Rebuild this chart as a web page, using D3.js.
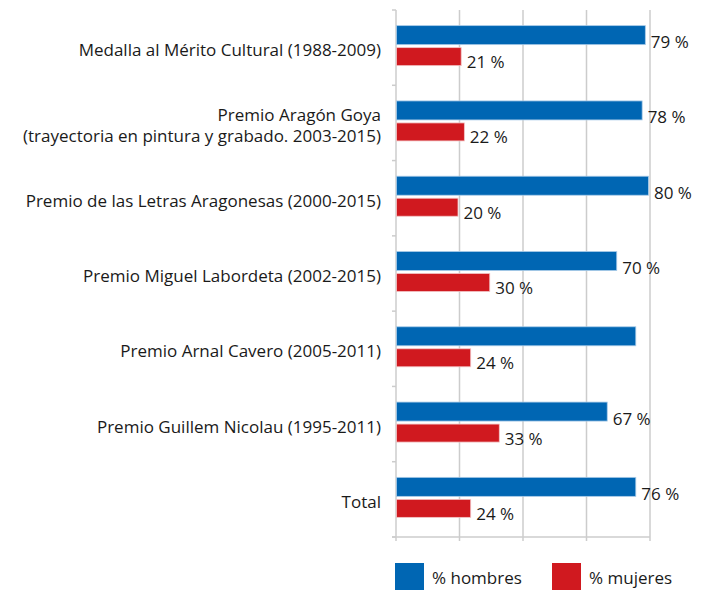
<!DOCTYPE html>
<html>
<head>
<meta charset="utf-8">
<script src="https://d3js.org/d3.v7.min.js"></script>
<style>
  body { margin: 0; background: #fff; }
  text { font-family: "Open Sans", sans-serif; fill: #1a1a1a; }
</style>
</head>
<body>
<svg width="705" height="590"></svg>
<script>
// data
var categories = [
  ["Medalla al Mérito Cultural (1988-2009)"],
  ["Premio Aragón Goya", "(trayectoria en pintura y grabado. 2003-2015)"],
  ["Premio de las Letras Aragonesas (2000-2015)"],
  ["Premio Miguel Labordeta (2002-2015)"],
  ["Premio Arnal Cavero (2005-2011)"],
  ["Premio Guillem Nicolau (1995-2011)"],
  ["Total"]
];
var hombres = [79, 78, 80, 70, 76, 67, 76];
var mujeres = [21, 22, 20, 30, 24, 33, 24];
var hombresLabels = ["79 %", "78 %", "80 %", "70 %", "", "67 %", "76 %"];
var mujeresLabels = ["21  %", "22 %", "20 %", "30 %", "24 %", "33 %", "24 %"];
var xTicks = [0, 20, 40, 60, 80];
var seriesNames = ["% hombres", "% mujeres"];
var colors = ["#0066b3", "#d0191f"];

var svg = d3.select("svg");
var pLeft = 396, pRight = 650, pTop = 10, pBottom = 537;

var x = d3.scaleLinear().domain([0, 80]).range([pLeft, pRight]);
var y = d3.scaleBand().domain(d3.range(categories.length)).range([pTop, pBottom]);

// gridlines
svg.selectAll(".grid").data(xTicks.slice(1)).enter().append("line")
   .attr("x1", d => x(d)).attr("x2", d => x(d))
   .attr("y1", pTop).attr("y2", pBottom + 4)
   .attr("stroke", "#cccccc").attr("stroke-width", 1.5);

// axes
svg.append("line").attr("x1", pLeft).attr("x2", pLeft).attr("y1", pTop).attr("y2", pBottom + 4)
   .attr("stroke", "#cccccc").attr("stroke-width", 1.5);
svg.append("line").attr("x1", pLeft - 4).attr("x2", pRight).attr("y1", pBottom).attr("y2", pBottom)
   .attr("stroke", "#cccccc").attr("stroke-width", 1.5);
svg.selectAll(".ytick").data(d3.range(categories.length + 1)).enter().append("line")
   .attr("x1", pLeft - 4).attr("x2", pLeft)
   .attr("y1", d => pTop + d * y.step()).attr("y2", d => pTop + d * y.step())
   .attr("stroke", "#cccccc").attr("stroke-width", 1.5);

// category labels, one text per line
categories.forEach(function(lines, i) {
  var c = y(i) + y.bandwidth() / 2;
  lines.forEach(function(s, j) {
    svg.append("text").attr("x", 381)
       .attr("text-anchor", "end")
       .attr("y", c + 8.5 + (j - (lines.length - 1) / 2) * 21)
       .style("font-size", "17px")
       .text(s);
  });
});

// bars
var barH = 19, gap = 3;
var groups = svg.selectAll(".g").data(d3.range(categories.length)).enter().append("g");
groups.append("rect")
   .attr("x", pLeft + 0.5).attr("y", i => y(i) + y.bandwidth() / 2 - 22)
   .attr("width", i => x(hombres[i]) - pLeft - 2).attr("height", barH)
   .attr("fill", colors[0]).attr("stroke", "#a9cbe8").attr("stroke-width", 0.8);
groups.append("rect")
   .attr("x", pLeft + 0.5).attr("y", i => y(i) + y.bandwidth() / 2 - 22 + barH + gap)
   .attr("width", i => x(mujeres[i]) - pLeft - 2).attr("height", barH - 1)
   .attr("fill", colors[1]).attr("stroke", "#f2c4c5").attr("stroke-width", 0.8);

groups.append("text")
   .attr("x", i => x(hombres[i]) + 4)
   .attr("y", i => y(i) + y.bandwidth() / 2 + 0.5)
   .style("font-size", "17px")
   .text(i => hombresLabels[i]);
groups.append("text")
   .attr("x", i => x(mujeres[i]) + 4)
   .attr("y", i => y(i) + y.bandwidth() / 2 + 20.5)
   .style("font-size", "17px")
   .text(i => mujeresLabels[i]);

// legend
var legX = [395, 552];
seriesNames.forEach(function(n, i) {
  svg.append("rect").attr("x", legX[i]).attr("y", 563).attr("width", 29).attr("height", 27)
     .attr("fill", colors[i]);
  svg.append("text").attr("x", legX[i] + 37).attr("y", 584)
     .style("font-size", "17px").text(n);
});
</script>
</body>
</html>
